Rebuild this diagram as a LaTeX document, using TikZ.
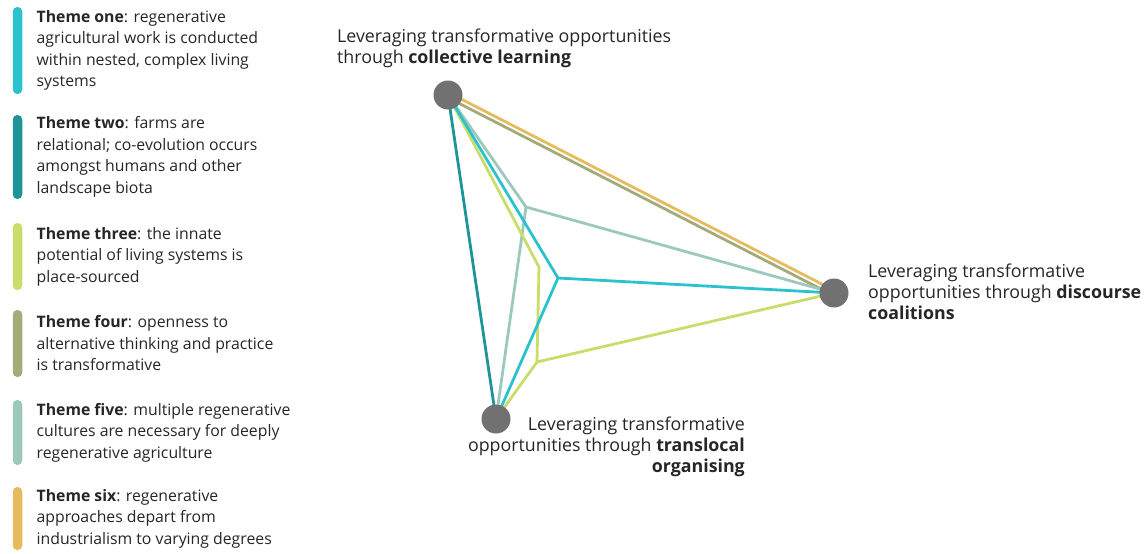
\documentclass[tikz,border=0pt]{standalone}
\usepackage{fontspec}
\setmainfont{Open Sans}
\usetikzlibrary{positioning, backgrounds}

\definecolor{tone}{HTML}{2BC2CD}
\definecolor{ttwo}{HTML}{1E9499}
\definecolor{tthree}{HTML}{C9DD6B}
\definecolor{tfour}{HTML}{A4AA78}
\definecolor{tfive}{HTML}{9DC9BD}
\definecolor{tsix}{HTML}{E4BC5E}
\definecolor{hubgray}{HTML}{717171}
\definecolor{txtgray}{HTML}{262626}

\begin{document}
\begin{tikzpicture}[
    x=1pt, y=-1pt, % pixel grid, y downwards
    every node/.style={font=\fontsize{15.8}{21.5}\selectfont, text=txtgray},
    hub/.style={circle, fill=hubgray, minimum size=29pt, inner sep=0pt}, % grey hub discs
    bar/.style={rounded corners=4.5pt, minimum width=9.5pt, inner sep=0pt}, % legend colour bars
    legtext/.style={align=left, inner sep=0pt, anchor=west},
    hubtext/.style={inner sep=0pt, font=\fontsize{17.8}{21}\selectfont}, % hub labels are larger
    link/.style={line width=2.8pt, line join=round} % theme lines
]
    \useasboundingbox (0,0) rectangle (1146,554);

    % 1. legend colour bars
    \foreach \n/\col/\yc/\ht in {one/tone/50.5/87, two/ttwo/157/84, three/tthree/256.5/67,
                                 four/tfour/343.5/67, five/tfive/432.5/65, six/tsix/518.5/63} {
        \node[bar, fill=\col, minimum height=\ht pt] (bar\n) at (17.5,\yc) {};
    }

    % legend texts
    \node[legtext, right=14pt of barone] (legone)
        {\textbf{Theme one}: regenerative\\agricultural work is conducted\\within nested, complex living\\systems};
    \node[legtext, right=14pt of bartwo] (legtwo)
        {\textbf{Theme two}: farms are\\relational; co-evolution occurs\\amongst humans and other\\landscape biota};
    \node[legtext, right=14pt of barthree] (legthree)
        {\textbf{Theme three}: the innate\\potential of living systems is\\place-sourced};
    \node[legtext, right=14pt of barfour] (legfour)
        {\textbf{Theme four}: openness to\\alternative thinking and practice\\is transformative};
    \node[legtext, right=14pt of barfive] (legfive)
        {\textbf{Theme five}: multiple regenerative\\cultures are necessary for deeply\\regenerative agriculture};
    \node[legtext, right=14pt of barsix] (legsix)
        {\textbf{Theme six}: regenerative\\approaches depart from\\industrialism to varying degrees};

    % 2. hubs
    \node[hub] (cl) at (448,95) {};
    \node[hub] (dc) at (834,293) {};
    \node[hub] (tr) at (496,419) {};

    % bend points of the theme lines
    \coordinate (jfive) at (526,207);
    \coordinate (jthree) at (539,267);
    \coordinate (jthreeb) at (537,362);
    \coordinate (jone) at (558,278);

    % 3. theme lines (behind the hubs)
    \begin{pgfonlayer}{background}
        \draw[link, tsix] ([shift={(1,-2.2)}]cl.center) -- ([shift={(1,-2.2)}]dc.center);
        \draw[link, tfour] ([shift={(-1,2.2)}]cl.center) -- ([shift={(-1,2.2)}]dc.center);
        \draw[link, tfive] (cl.center) -- (jfive) -- (dc.center);
        \draw[link, tfive] (jfive) -- (tr.center);
        \draw[link, ttwo] (cl.center) -- (tr.center);
        \draw[link, tthree] (cl.center) -- (jthree) -- (jthreeb) -- (dc.center);
        \draw[link, tthree] (jthreeb) -- (tr.center);
        \draw[link, tone] (cl.center) -- (jone) -- (dc.center);
        \draw[link, tone] (jone) -- (tr.center);
    \end{pgfonlayer}

    % 4. hub labels
    \node[hubtext, anchor=north west, align=left] (cltext) at (337,28.5)
        {Leveraging transformative opportunities\\through \textbf{collective learning}};
    \node[hubtext, anchor=north west, align=left] (dctext) at (868,263.5)
        {Leveraging transformative\\opportunities through \textbf{discourse}\\\textbf{coalitions}};
    \node[hubtext, anchor=north east, align=right] (trtext) at (745,416.5)
        {Leveraging transformative\\opportunities through \textbf{translocal}\\\textbf{organising}};

\end{tikzpicture}
\end{document}
